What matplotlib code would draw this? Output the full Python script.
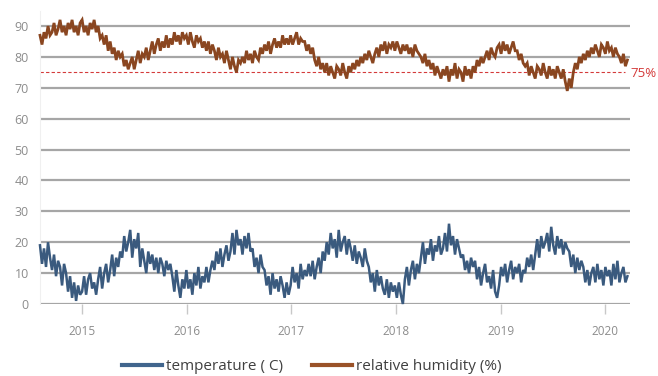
import numpy as np
import matplotlib
matplotlib.use("Agg")
import matplotlib.pyplot as plt
import matplotlib.dates as mdates

plt.rcParams['font.family'] = ['Open Sans', 'DejaVu Sans']

# weekly readings starting 2014-08-07
start_date = "2014-08-07"

temp_2014 = [19, 13, 18, 12, 20, 15, 11, 16, 9, 14, 12, 6, 13, 10, 4, 9, 2, 7, 1, 6, 3]
temp_2015 = [4, 9, 3, 8, 10, 5, 7, 3,
             8, 12, 5, 10, 13, 7,
             11, 16, 9, 15, 12, 17,
             15, 22, 17, 20, 24, 15, 21, 18, 23,
             12, 18, 14, 10, 17, 13, 16, 11, 15,
             10, 15, 13, 9, 14, 11, 13,
             9, 4, 11, 6, 2, 8, 5]
temp_2016 = [11, 5, 8, 3, 10, 6, 12, 5, 9, 7,
             12, 7, 11, 14,
             11, 17, 13, 18, 12, 16, 19, 14,
             17, 23, 16, 24, 19, 21, 16, 22, 18, 23, 17,
             18, 12, 15, 10, 16, 12,
             11, 6, 9, 3, 10, 5, 8, 4, 9, 6,
             2, 7, 3]
temp_2017 = [6, 12, 7, 10, 5, 13, 8, 11, 9,
             13, 9, 14, 8, 12, 15,
             10, 17, 14, 20,
             16, 23, 18, 21, 15, 24, 17, 20, 22, 16, 21, 18,
             14, 19, 13, 17, 15, 12, 18, 14,
             12, 7, 10, 4, 11, 6, 9, 5,
             3, 8, 2, 7, 4]
temp_2018 = [6, 2, 7, 3, 0,
             8, 12, 6, 11, 14, 8, 13, 10,
             15, 20, 13, 18, 16, 21, 14, 19, 17, 22, 16,
             18, 23, 17, 26, 19, 22, 16, 21, 18, 15,
             16, 11, 14, 10, 15, 12, 14,
             8, 12, 6, 10, 13, 7, 9, 5, 11, 4, 2]
temp_2019 = [6, 12, 9, 13, 7, 11, 14, 8, 12, 10, 13, 7, 11,
             10, 15, 12, 16, 11,
             16, 21, 15, 22, 18, 20, 23, 17, 25, 19, 16, 22, 18, 21, 16, 20, 18,
             17, 12, 16, 10, 15, 11, 14,
             12, 7, 11, 6, 10, 12, 7, 13, 8, 11]
temp_2020 = [6, 12, 9, 11, 6, 13, 8, 14, 7, 10, 12, 7, 9]

hum_2014 = [87, 84, 88, 86, 90, 87, 88, 91, 87, 89, 92, 88, 90, 87, 91, 89, 92, 88, 90, 87, 91]
hum_2015 = [92, 88, 90, 87, 91, 89, 92, 88,
            90, 86, 87, 84, 87, 82,
            85, 81, 83, 79, 82, 80,
            81, 77, 79, 76, 78, 80, 76,
            79, 82, 78, 81, 80, 83, 79,
            82, 85, 81, 84, 86, 82, 85, 83, 87, 83, 86,
            84, 88, 85, 87, 84, 88, 86]
hum_2016 = [87, 84, 88, 85, 83, 87, 85,
            86, 83, 85, 82, 85, 81, 84,
            82, 79, 83, 80, 81, 78, 82,
            79, 76, 80, 77, 75, 79, 78,
            80, 78, 82, 79, 81, 78, 82, 80, 79,
            83, 81, 84, 82, 85, 81, 84, 86, 83,
            85, 83, 87, 84, 86, 84]
hum_2017 = [87, 84, 86, 88, 84, 86, 85,
            85, 82, 84, 81, 83,
            79, 77, 80, 76, 78, 75,
            78, 74, 77, 75, 73, 77, 76, 74, 78, 75, 73, 77, 75, 78, 76,
            79, 77, 80, 78, 81, 79, 82, 80, 78, 81,
            83, 80, 84, 82, 85, 81, 84, 83, 85]
hum_2018 = [82, 85, 83, 81, 84, 82,
            84, 81, 83, 80, 84, 82, 81,
            80, 78, 81, 77, 79, 76,
            78, 74, 77, 75, 73, 76, 74, 77, 72,
            76, 74, 78, 73, 76, 75, 72, 77, 74, 76, 73,
            77, 75, 79, 77, 80, 78,
            80, 82, 79, 83, 81, 80, 83]
hum_2019 = [84, 81, 85, 82, 84, 81, 83, 85, 82,
            82, 79, 81, 78, 77,
            78, 74, 77, 75, 73, 77, 76, 74, 78, 75, 73,
            77, 74, 76, 73, 77, 75, 73, 76,
            72, 69, 73, 70,
            75, 78, 76, 80, 78, 81, 79, 82,
            80, 83, 81, 84, 82, 80, 84]
hum_2020 = [83, 81, 85, 82, 83, 80, 83, 81, 80, 78, 81, 77, 79]

year_ticks = [2015, 2016, 2017, 2018, 2019, 2020]
ref_level = 75
ref_label = "75%"
y_ticks = [0, 10, 20, 30, 40, 50, 60, 70, 80, 90]

temperature = np.array(temp_2014 + temp_2015 + temp_2016 + temp_2017 + temp_2018 + temp_2019 + temp_2020, float)
humidity = np.array(hum_2014 + hum_2015 + hum_2016 + hum_2017 + hum_2018 + hum_2019 + hum_2020, float)
dates = np.datetime64(start_date) + np.arange(len(temperature)) * np.timedelta64(7, 'D')
dates = dates.astype('datetime64[D]').astype(object)

W, H = 658, 376
fig = plt.figure(figsize=(W / 100, H / 100), dpi=100)
ax = fig.add_axes([40 / W, 1 - 304 / H, 590 / W, (304 - 10.6) / H])

grid_c = '#A6A6A6'
for v in y_ticks:
    ax.axhline(v, color=grid_c, lw=1.6, zorder=1)

ax.plot(dates, temperature, color='#3A5A7E', lw=1.8, zorder=3, label='temperature ( C)',
        clip_on=False, solid_joinstyle='miter')
ax.plot(dates, humidity, color='#8A4620', lw=2.0, zorder=3, label='relative humidity (%)',
        clip_on=False, solid_joinstyle='miter')

x0 = mdates.datestr2num("2014-08-07")
x1 = mdates.datestr2num("2020-03-28")
ax.set_xlim(x0, x1)
ax.set_ylim(0, 95)

ax.plot([x0, mdates.datestr2num("2020-03-12")], [ref_level, ref_level], color='#D43A3A',
        lw=0.8, ls=(0, (3, 2)), zorder=2)
ax.text(x1 + 2, ref_level - 0.3, ref_label, color='#D43A3A', fontsize=9.5, va='center', ha='left')

ax.set_yticks(y_ticks)
ax.set_xticks([mdates.datestr2num(f"{y}-01-01") for y in year_ticks])
ax.set_xticklabels([str(y) for y in year_ticks])
ax.tick_params(axis='y', length=0, labelsize=9, labelcolor='#8C8C8C', pad=8)
ax.tick_params(axis='x', length=7, width=1, color='#C8C8C8', labelsize=8.5,
               labelcolor='#8C8C8C', pad=8)
for s in ['top', 'right', 'bottom']:
    ax.spines[s].set_visible(False)
ax.spines['left'].set_color('#F0F0F0')
ax.spines['left'].set_linewidth(0.8)
ax.patch.set_alpha(0)

h1 = plt.Line2D([], [], color='#41658D', lw=3)
h2 = plt.Line2D([], [], color='#9A5228', lw=3)
leg = fig.legend([h1, h2], ['temperature ( C)', 'relative humidity (%)'], loc='center',
                 bbox_to_anchor=(0.474, 0.025), ncol=2, frameon=False, fontsize=11,
                 handlelength=2.6, handletextpad=0.3, columnspacing=1.9)
for t in leg.get_texts():
    t.set_color('#404040')

fig.savefig("out.png", dpi=100)
